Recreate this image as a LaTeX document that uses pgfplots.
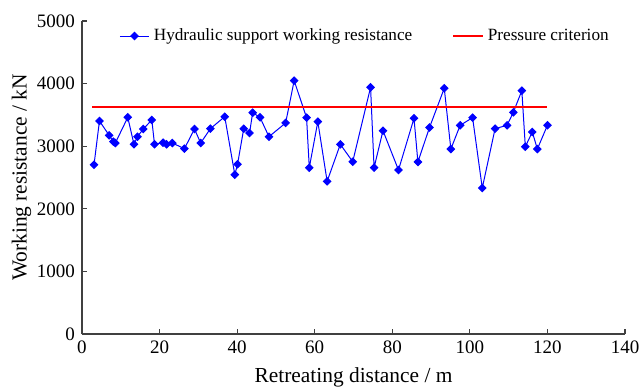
\documentclass[border=0pt]{standalone}
\usepackage{pgfplots}
\pgfplotsset{compat=1.18}
\usepackage{fontspec}
\setmainfont{Liberation Serif}
\begin{document}
\begin{tikzpicture}
\useasboundingbox (-41pt,-27.5pt) rectangle (279pt,167pt);
\begin{axis}[
  scale only axis,
  at={(0,0)}, anchor=south west,
  width=271.5pt, height=156.5pt,
  xmin=0, xmax=140, ymin=0, ymax=5000,
  xtick={0,20,...,140}, ytick={0,1000,...,5000},
  axis lines=left,
  axis line style={-, line width=0.7pt, black!75},
  tick style={black!75, line width=0.6pt},
  tick align=inside,
  major tick length=2.5pt,
  /pgf/number format/assume math mode=true,
  /pgf/number format/1000 sep={},
  ticklabel style={font=\fontsize{9.5}{11}\selectfont},
  xlabel={Retreating distance / m},
  ylabel={Working resistance / kN},
  label style={font=\fontsize{10.7}{12}\selectfont},
  ylabel style={yshift=-4pt},
  legend image code/.code={\draw[mark repeat=2,mark phase=2,#1] plot coordinates {(0cm,0cm) (0.26cm,0cm) (0.52cm,0cm)};},
  legend style={draw=none, fill=none, at={(0.523,0.952)}, anchor=center,
    font=\fontsize{8.6}{10}\selectfont, legend columns=2,
    /tikz/every even column/.append style={column sep=18pt}},
  clip=false,
]
\addplot[blue, line width=0.5pt, mark=square*, mark size=1.3pt, mark options={fill=blue, rotate=45}] coordinates {
(3.1,2705) (4.5,3403) (7.0,3174) (8.1,3072) (8.6,3051) (11.8,3461) (13.4,3030) (14.3,3152)
(15.8,3275) (18.0,3419) (18.7,3030) (20.9,3056) (21.8,3030) (23.3,3051) (26.4,2960) (29.0,3275)
(30.6,3051) (33.1,3280) (36.8,3472) (39.4,2545) (40.1,2711) (41.7,3280) (43.2,3211) (44.0,3535)
(45.9,3461) (48.2,3152) (52.5,3371) (54.7,4047) (57.9,3456) (58.6,2657) (60.8,3392) (63.2,2439)
(66.6,3030) (69.8,2753) (74.4,3941) (75.3,2657) (77.6,3248) (81.6,2620) (85.6,3446) (86.6,2748)
(89.6,3300) (93.4,3925) (95.1,2955) (97.5,3334) (100.7,3456) (103.2,2332) (106.5,3280) (109.6,3334)
(111.2,3541) (113.4,3887) (114.3,2992) (116.1,3227) (117.4,2955) (120.0,3334)
};
\addlegendentry{Hydraulic support working resistance}
\addplot[red, line width=1pt] coordinates {(2.7,3620) (120,3620)};
\addlegendentry{Pressure criterion}
\end{axis}
\end{tikzpicture}
\end{document}
